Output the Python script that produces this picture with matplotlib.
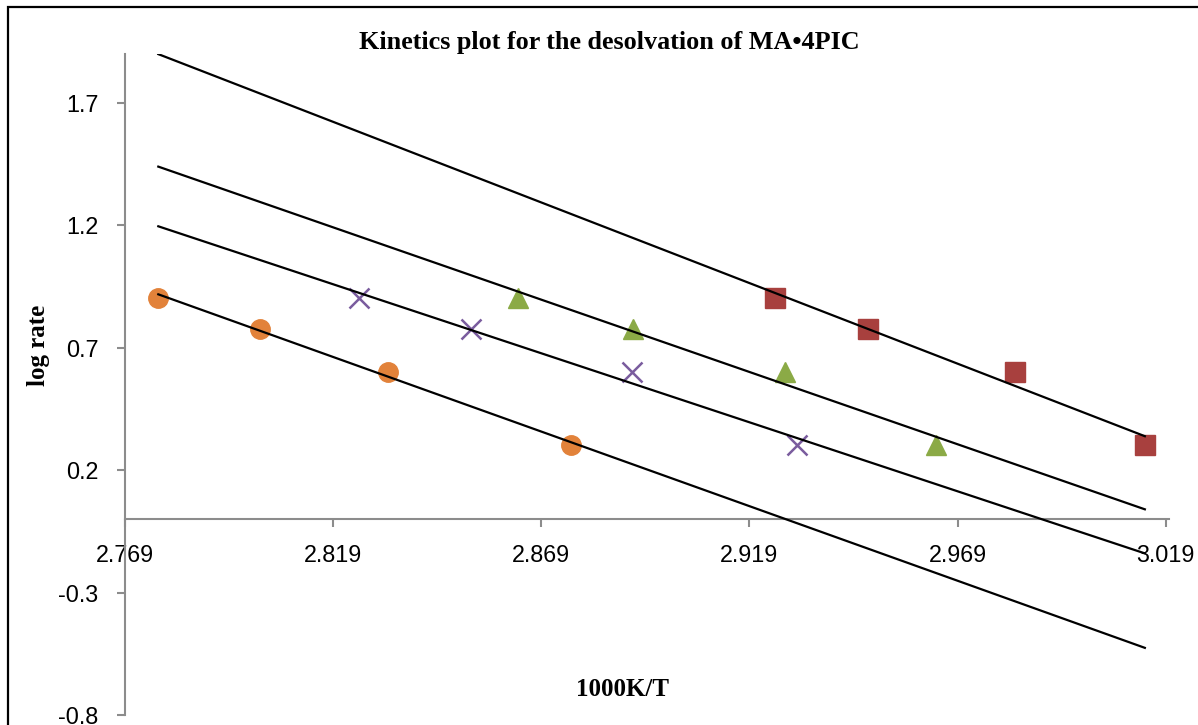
import numpy as np
import matplotlib
matplotlib.use("Agg")
import matplotlib.pyplot as plt
from matplotlib.patches import Rectangle

# 1000K/T values for each run, log rate shared by all runs
log_rate = [0.903, 0.778, 0.602, 0.301]
x_circle = [2.7770, 2.8014, 2.8323, 2.8761]
x_cross = [2.8252, 2.8521, 2.8907, 2.9304]
x_triangle = [2.8634, 2.8910, 2.9275, 2.9638]
x_square = [2.9251, 2.9475, 2.9828, 3.0140]

x_ticks = [2.769, 2.819, 2.869, 2.919, 2.969, 3.019]
y_ticks = [-0.8, -0.3, 0.2, 0.7, 1.2, 1.7]

fig = plt.figure(figsize=(11.98, 7.25), dpi=100)
ax = fig.add_axes([125 / 1198, 1 - 715 / 725, (1169 - 125) / 1198, (715 - 54) / 725])

series = [
    (x_square, "s", "#A8403E", 14),
    (x_triangle, "^", "#8BAA46", 14.5),
    (x_cross, "x", "#7A5C9E", 14),
    (x_circle, "o", "#E2823A", 14),
]

# trendlines over the full data range
all_x = x_circle + x_cross + x_triangle + x_square
xl = np.array([min(all_x), max(all_x)])
for xs, m, c, ms in series:
    k, b = np.polyfit(xs, log_rate, 1)
    ax.plot(xl, k * xl + b, color="black", lw=1.6, zorder=3)

for xs, m, c, ms in series:
    if m == "x":
        ax.plot(xs, log_rate, ls="none", marker=m, ms=ms, mew=1.8, color=c, zorder=2)
    else:
        ax.plot(xs, log_rate, ls="none", marker=m, ms=ms, mfc=c, mec=c, zorder=2)

ax.set_xlim(2.769, 3.0198)
ax.set_ylim(-0.8, 1.9)

ax.spines["top"].set_visible(False)
ax.spines["right"].set_visible(False)
ax.spines["bottom"].set_position(("data", 0))
for s in ("left", "bottom"):
    ax.spines[s].set_color("#8c8c8c")
    ax.spines[s].set_linewidth(1.5)

ax.set_xticks(x_ticks)
ax.set_xticklabels([f"{v:.3f}" for v in x_ticks])
ax.set_yticks(y_ticks)
ax.set_yticklabels([f"{v:.1f}" for v in y_ticks])
ax.tick_params(axis="both", direction="out", length=6, width=1.5, color="#8c8c8c",
               labelsize=16.8, labelcolor="black")
ax.tick_params(axis="x", pad=12)
ax.tick_params(axis="y", pad=13)
for lab in ax.get_xticklabels() + ax.get_yticklabels():
    lab.set_fontfamily("Liberation Sans")

fig.text(0.509, 1 - 42 / 725, "Kinetics plot for the desolvation of MA•4PIC",
         ha="center", va="center", fontsize=18.8, fontweight="bold",
         fontfamily="Liberation Serif")
fig.text(38 / 1198, 1 - 345 / 725, "log rate", rotation=90, ha="center", va="center",
         fontsize=18, fontweight="bold", fontfamily="Liberation Serif")
fig.text(622 / 1198, 1 - 690 / 725, "1000K/T", ha="center", va="center",
         fontsize=18, fontweight="bold", fontfamily="Liberation Serif")

# chart border
fig.patches.append(Rectangle((8 / 1198, -0.1), 1.2, 1 - 7 / 725 + 0.1,
                             transform=fig.transFigure, fill=False,
                             edgecolor="black", lw=1.6))

fig.savefig("out.png", dpi=100)
